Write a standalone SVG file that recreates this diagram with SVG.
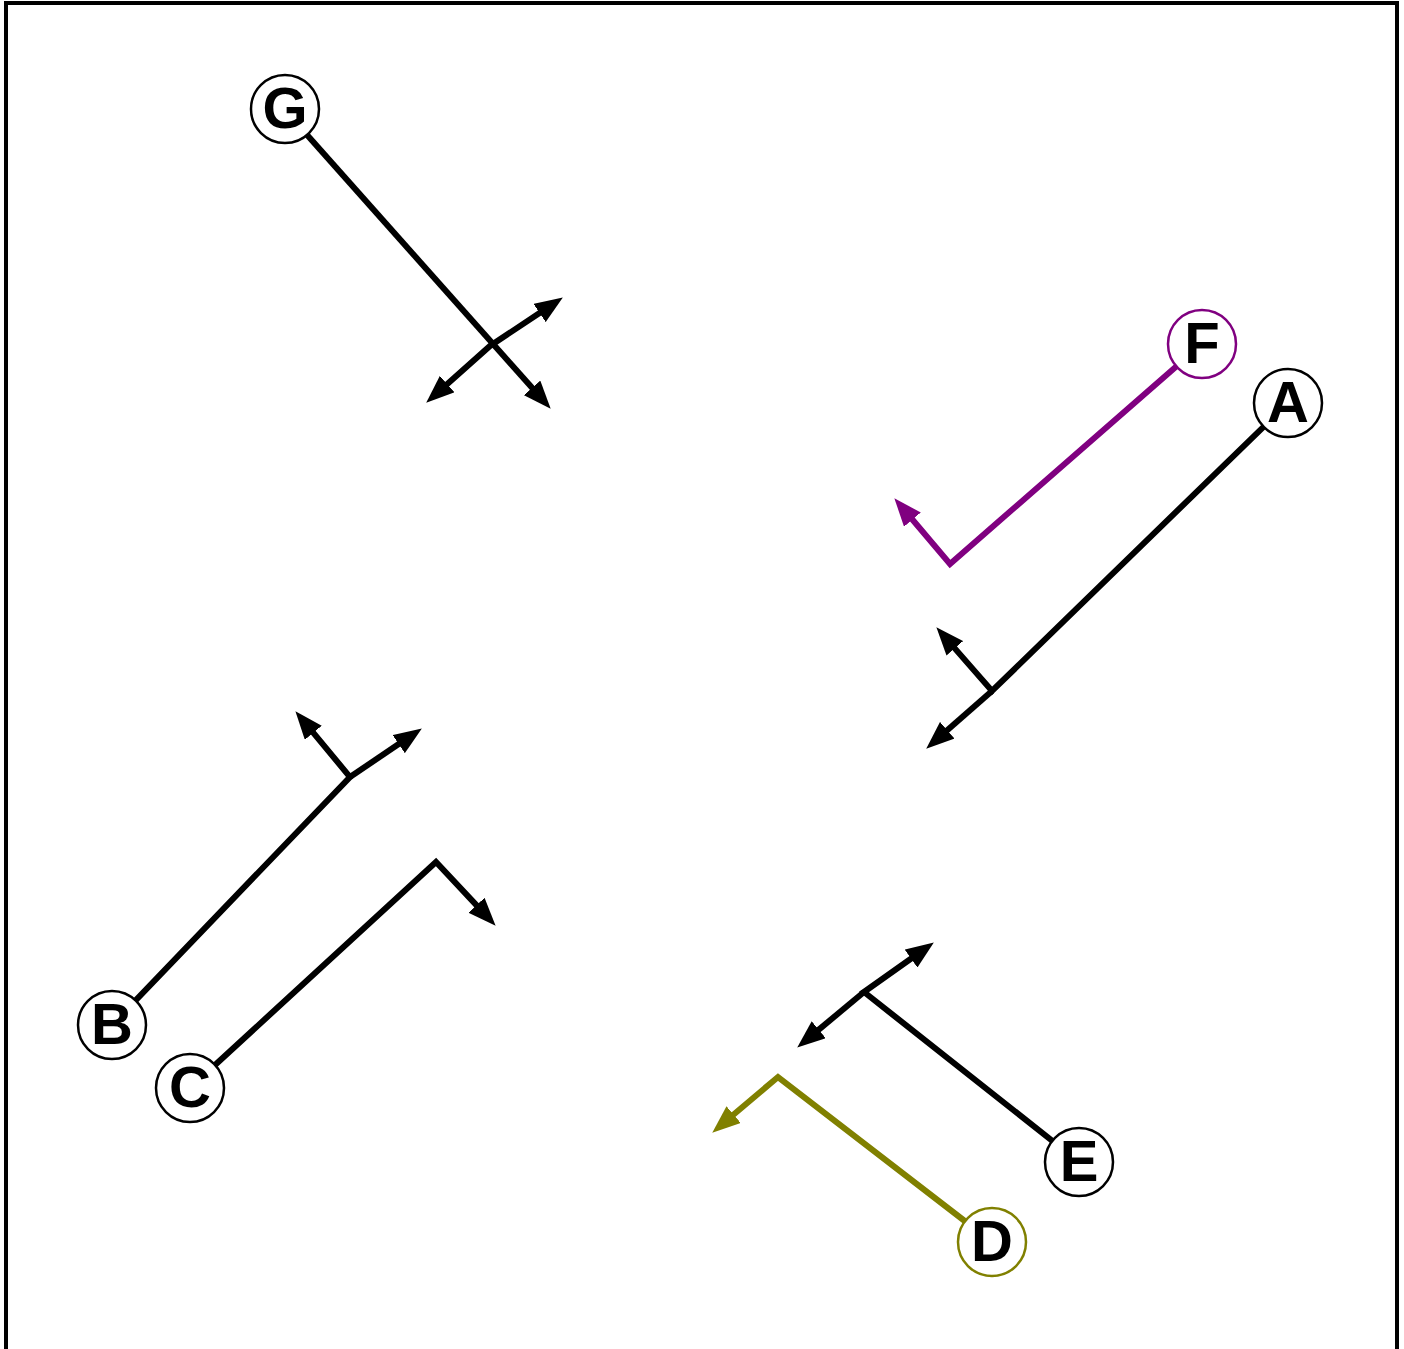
<svg xmlns="http://www.w3.org/2000/svg" width="1404" height="1349" viewBox="0 0 1404 1349">
  <defs>
    <marker id="ah" markerUnits="userSpaceOnUse" markerWidth="28" markerHeight="22" refX="5" refY="11" orient="auto-start-reverse" viewBox="0 0 28 22">
      <path d="M0,0 L28,11 L0,22 z" fill="#000"/>
    </marker>
    <marker id="ahp" markerUnits="userSpaceOnUse" markerWidth="28" markerHeight="22" refX="5" refY="11" orient="auto-start-reverse" viewBox="0 0 28 22">
      <path d="M0,0 L28,11 L0,22 z" fill="#800080"/>
    </marker>
    <marker id="aho" markerUnits="userSpaceOnUse" markerWidth="28" markerHeight="22" refX="5" refY="11" orient="auto-start-reverse" viewBox="0 0 28 22">
      <path d="M0,0 L28,11 L0,22 z" fill="#808000"/>
    </marker>
  </defs>
  <style>
    .c { fill: none; stroke: #000; stroke-width: 6; stroke-linejoin: miter; }
    .cp { stroke: #800080; }
    .co { stroke: #808000; }
    .n { fill: #fff; stroke: #000; stroke-width: 2.5; }
    .np { stroke: #800080; }
    .no { stroke: #808000; }
    .t { font-family: "Liberation Sans", Arial, sans-serif; font-weight: bold; font-size: 58px; text-anchor: middle; fill: #000; }
  </style>
  <rect x="0" y="0" width="1404" height="1349" fill="#fff"/>
  <path d="M6,1360 L6,3 L1397,3 L1397,1360" fill="none" stroke="#000" stroke-width="4"/>
  <g id="connectors">
    <path class="c" d="M284,109 L535.4,391.6" marker-end="url(#ah)"/>
    <path class="c" d="M443.4,387.4 L490,346 L543.7,310.2" marker-start="url(#ah)" marker-end="url(#ah)"/>
    <path class="c cp" d="M1202,344 L950,564 L909.2,515.8" marker-end="url(#ahp)"/>
    <path class="c" d="M1288,403 L992,691 L951.5,644.6" marker-end="url(#ah)"/>
    <path class="c" d="M992,691 L943.5,733.5" marker-end="url(#ah)"/>
    <path class="c" d="M112,1025 L350,777 L310.1,728.9" marker-end="url(#ah)"/>
    <path class="c" d="M350,777 L402.8,741.3" marker-end="url(#ah)"/>
    <path class="c" d="M190,1088 L436,862 L479.9,908.9" marker-end="url(#ah)"/>
    <path class="c" d="M1079,1162 L864,992 L915.1,955.7" marker-end="url(#ah)"/>
    <path class="c" d="M864,992 L814.9,1032.9" marker-end="url(#ah)"/>
    <path class="c co" d="M992,1242 L778,1077 L729.8,1117.8" marker-end="url(#aho)"/>
  </g>
  <g id="node-G"><circle class="n" cx="285" cy="109" r="34"/><text class="t" x="285" y="128">G</text></g>
  <g id="node-F"><circle class="n np" cx="1202" cy="344" r="34"/><text class="t" x="1202" y="363">F</text></g>
  <g id="node-A"><circle class="n" cx="1288" cy="403" r="34"/><text class="t" x="1288" y="422">A</text></g>
  <g id="node-B"><circle class="n" cx="112" cy="1025" r="34"/><text class="t" x="112" y="1044">B</text></g>
  <g id="node-C"><circle class="n" cx="190" cy="1088" r="34"/><text class="t" x="190" y="1107">C</text></g>
  <g id="node-E"><circle class="n" cx="1079" cy="1162" r="34"/><text class="t" x="1079" y="1181">E</text></g>
  <g id="node-D"><circle class="n no" cx="992" cy="1242" r="34"/><text class="t" x="992" y="1261">D</text></g>
</svg>
